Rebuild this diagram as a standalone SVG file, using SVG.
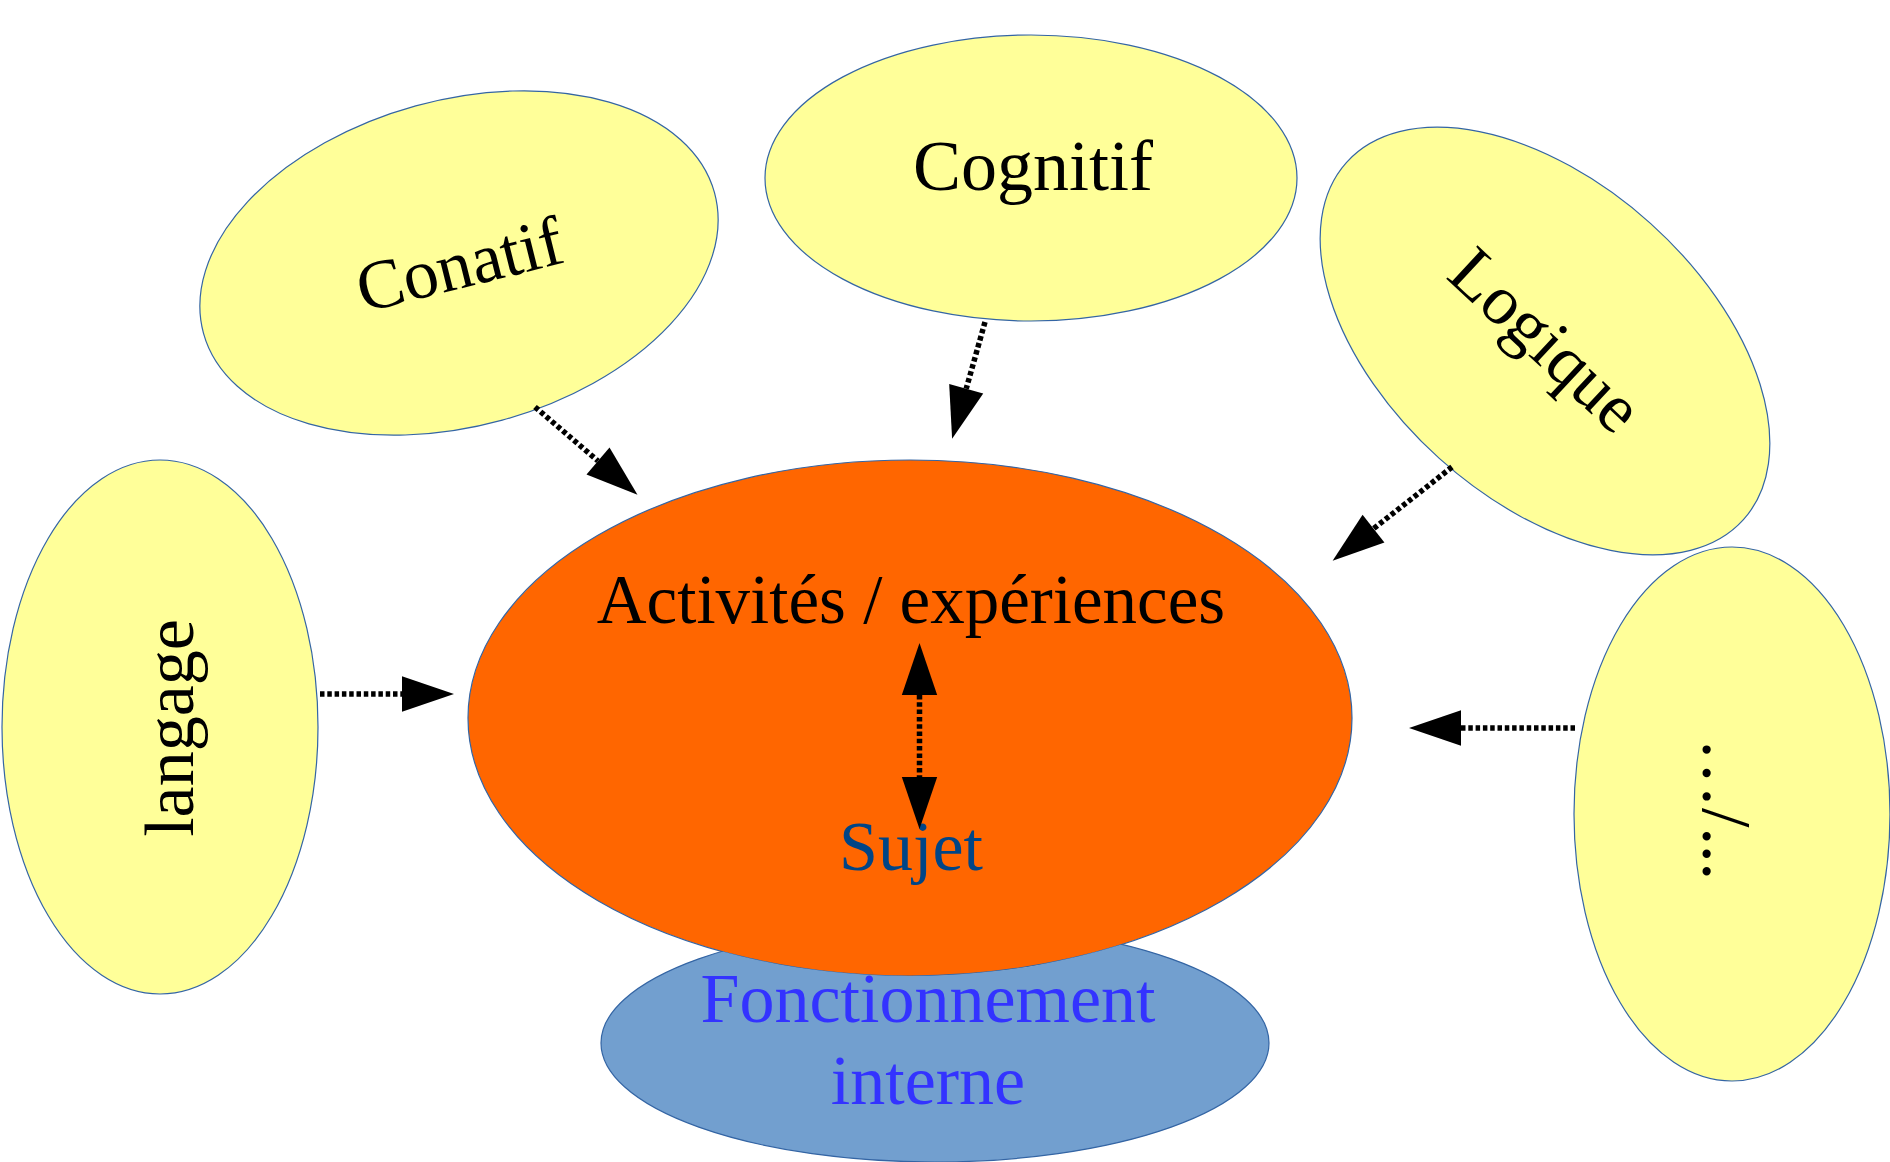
<svg xmlns="http://www.w3.org/2000/svg" width="1890" height="1162" viewBox="0 0 1890 1162">
<style>
.y{fill:#ffff99;stroke:#3465a4;stroke-width:1.2}
.t{font-family:"Liberation Serif","Times New Roman",serif;font-size:70px;fill:#000;text-anchor:middle}
.c{fill:none;stroke:#000;stroke-width:5.5;stroke-dasharray:4.5 2.8}
</style>
<defs>
<marker id="ah" markerUnits="userSpaceOnUse" markerWidth="52" markerHeight="36" viewBox="0 0 50 34" refX="0" refY="17" orient="auto-start-reverse" overflow="visible">
<path d="M0,0 L50,17 L0,34 z" fill="#000"/>
</marker>
<mask id="m-orange" maskUnits="userSpaceOnUse" x="0" y="0" width="1890" height="1162">
<rect x="0" y="0" width="1890" height="1162" fill="#fff"/>
<ellipse cx="910" cy="718" rx="442" ry="258" fill="#000"/>
</mask>
</defs>
<rect width="1890" height="1162" fill="#fff"/>
<g id="node-conatif">
<ellipse class="y" cx="459" cy="263" rx="265" ry="163" transform="rotate(-15.4 459 263)"/>
<text class="t" transform="translate(459 263) rotate(-14)" x="0" y="25">Conatif</text>
</g>
<g id="node-cognitif">
<ellipse class="y" cx="1031" cy="178" rx="266" ry="143"/>
<text class="t" x="1033" y="190" style="font-size:72px">Cognitif</text>
</g>
<g id="node-logique">
<ellipse class="y" cx="1545" cy="341" rx="267" ry="158" transform="rotate(42 1545 341)"/>
<text class="t" transform="translate(1545 341) rotate(43)" x="0" y="22">Logique</text>
</g>
<g id="node-langage">
<ellipse class="y" cx="160" cy="727" rx="158" ry="267"/>
<text class="t" transform="translate(193 728) rotate(-90)" x="0" y="0">langage</text>
</g>
<g id="node-etc">
<ellipse class="y" cx="1732" cy="814" rx="158" ry="267"/>
<text class="t" style="text-anchor:start" transform="translate(1703 738) rotate(90)" x="0" y="0">…/...</text>
</g>
<g id="node-activites">
<ellipse cx="910" cy="718" rx="442" ry="258" fill="#ff6600" stroke="#3465a4" stroke-width="1.2"/>
<text class="t" x="911" y="623" style="font-size:69px">Activités / expériences</text>
<text class="t" x="911" y="870" style="fill:#004586">Sujet</text>
</g>
<g id="node-fonctionnement">
<ellipse cx="935" cy="1043" rx="334" ry="119" fill="#729fcf" stroke="#3465a4" stroke-width="1.2" mask="url(#m-orange)"/>
<text class="t" x="928" y="1022" style="fill:#3333ff">Fonctionnement</text>
<text class="t" x="928" y="1104" style="fill:#3333ff">interne</text>
</g>
<g id="connectors">
<line class="c" x1="535" y1="407" x2="598" y2="461" marker-end="url(#ah)"/>
<line class="c" x1="985" y1="322" x2="966.2" y2="388.8" marker-end="url(#ah)"/>
<line class="c" x1="1452" y1="467" x2="1373.5" y2="528.7" marker-end="url(#ah)"/>
<line class="c" x1="320" y1="694" x2="402" y2="694" marker-end="url(#ah)"/>
<line class="c" x1="1575" y1="728" x2="1461" y2="728" marker-end="url(#ah)"/>
<line class="c" x1="919.5" y1="695" x2="919.5" y2="777" marker-start="url(#ah)" marker-end="url(#ah)"/>
</g>
</svg>
